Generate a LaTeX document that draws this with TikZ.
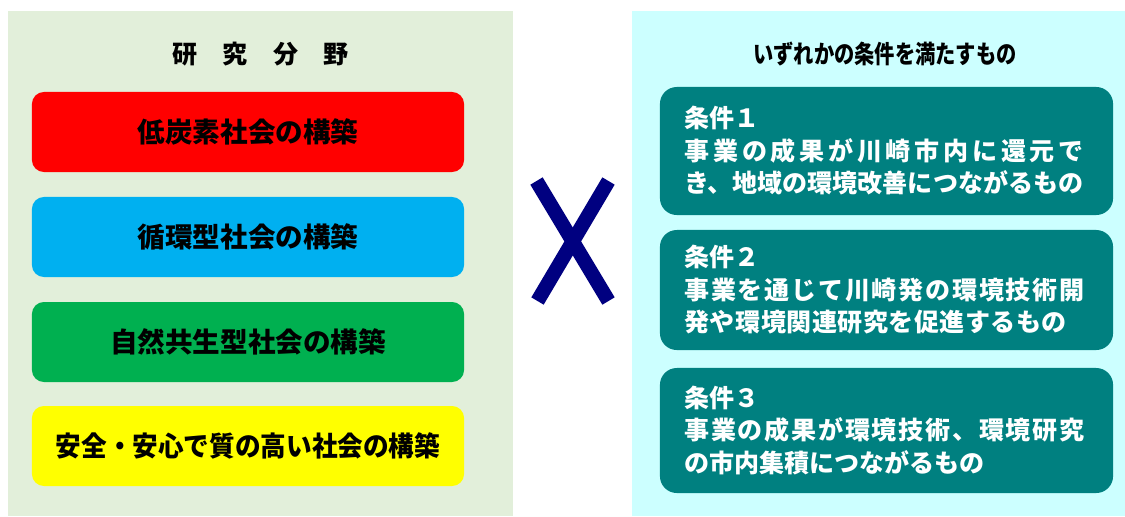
\documentclass[tikz,border=0pt]{standalone}
\usepackage{fontspec}
\setmainfont{Noto Sans CJK JP}
\usepackage{graphicx}
\definecolor{fieldbg}{HTML}{E2EFDA}
\definecolor{condbg}{HTML}{CCFFFF}
\definecolor{condteal}{HTML}{008080}
\definecolor{crossnavy}{HTML}{000080}
\definecolor{lowcarbon}{HTML}{FF0000}
\definecolor{recycle}{HTML}{00B0F0}
\definecolor{nature}{HTML}{00B050}
\definecolor{safety}{HTML}{FFFF00}
\newcommand{\lsp}[2]{{\addfontfeature{LetterSpace=#1}#2}}

\begin{document}
\begin{tikzpicture}[x=0.025cm,y=-0.025cm,
	field/.style={rounded corners=8.5pt, minimum width=10.8cm, minimum height=2cm,
		inner sep=0pt, font=\bfseries\fontsize{19.6}{23}\selectfont},
	cond/.style={rounded corners=12pt, fill=condteal, text=white, minimum width=11.325cm,
		text width=10.1cm, align=left, inner sep=0pt, font=\bfseries\fontsize{17.8}{23.1}\selectfont},
	heading/.style={font=\bfseries\fontsize{17.8}{20}\selectfont}]
	\useasboundingbox (0,0) rectangle (1125,516);

	% panels
	\fill[fieldbg] (8,11) rectangle (513,516);
	\fill[condbg] (632,11) rectangle (1125,516);

	% research fields
	\node[heading] (fieldtitle) at (260.5,54) {研　究　分　野};
	\node[field, fill=lowcarbon] (lowcarbon) at (248,132) {低炭素社会の構築};
	\node[field, fill=recycle] (recycle) at (248,237) {循環型社会の構築};
	\node[field, fill=nature] (nature) at (248,342) {自然共生型社会の構築};
	\node[field, fill=safety] (safety) at (248,446) {\scalebox{0.93}[1]{安全・安心で質の高い社会の構築}};

	% cross
	\coordinate (xa) at (536.5,181);
	\coordinate (xb) at (608.5,301);
	\coordinate (xc) at (608.5,181);
	\coordinate (xd) at (537.5,301);
	\draw[crossnavy, line width=10.2pt] (xa) -- (xb);
	\draw[crossnavy, line width=10.2pt] (xc) -- (xd);

	% conditions
	\node[heading] (condtitle) at (885,54) {\scalebox{0.81}[1]{いずれかの条件を満たすもの}};
	\node[cond, minimum height=3.2cm] (cond1) at (886.5,151)
		{条件１\\\lsp{15}{事業の成果が川崎市内に還元で}\\き、地域の環境改善につながるもの};
	\node[cond, minimum height=3cm] (cond2) at (886.5,290)
		{条件２\\\lsp{7}{事業を通じて川崎発の環境技術開}\\\lsp{2}{発や環境関連研究を促進するもの}};
	\node[cond, minimum height=3.125cm] (cond3) at (886.5,430.5)
		{条件３\\\lsp{7}{事業の成果が環境技術、環境研究}\\の市内集積につながるもの};
\end{tikzpicture}
\end{document}
